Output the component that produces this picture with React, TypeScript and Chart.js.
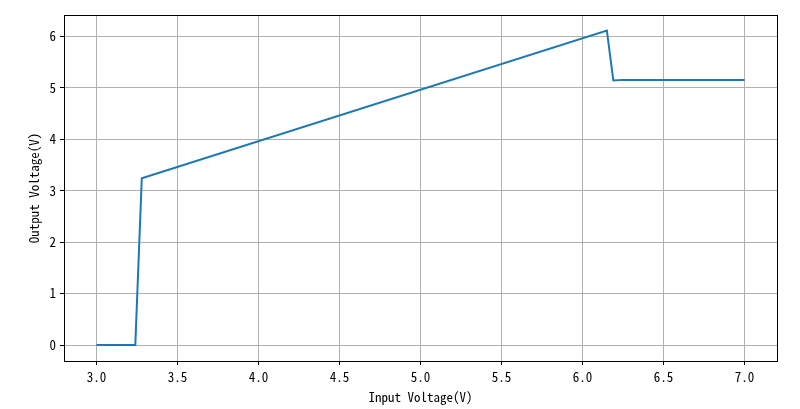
import React, { useEffect, useRef } from "react";
import { Chart, registerables } from "chart.js";

Chart.register(...registerables);

const inputVoltage = [3.0, 3.24, 3.28, 6.15, 6.19, 6.25, 7.0];
const outputVoltage = [0, 0, 3.24, 6.11, 5.14, 5.15, 5.15];
const xTicks = [3.0, 3.5, 4.0, 4.5, 5.0, 5.5, 6.0, 6.5, 7.0];
const yTicks = [0, 1, 2, 3, 4, 5, 6];
const xTitle = "Input Voltage(V)";
const yTitle = "Output Voltage(V)";

const FONT = "'Noto Sans Mono CJK SC', 'Noto Sans CJK SC', 'DejaVu Sans', sans-serif";

const framePlugin = {
  id: "frame",
  afterDraw(chart: any) {
    const { ctx, chartArea } = chart;
    ctx.save();
    ctx.strokeStyle = "#000";
    ctx.lineWidth = 1;
    ctx.strokeRect(
      Math.round(chartArea.left) + 0.5,
      Math.round(chartArea.top) + 0.5,
      Math.round(chartArea.right - chartArea.left),
      Math.round(chartArea.bottom - chartArea.top)
    );
    ctx.restore();
  },
};

export default function App() {
  const ref = useRef<HTMLCanvasElement>(null);
  useEffect(() => {
    document.body.style.margin = "0";
    const data = inputVoltage.map((x, i) => ({ x, y: outputVoltage[i] }));
    const chart = new Chart(ref.current as HTMLCanvasElement, {
      type: "scatter",
      data: {
        datasets: [
          {
            data,
            showLine: true,
            borderColor: "#1f77b4",
            backgroundColor: "#1f77b4",
            borderWidth: 2,
            pointRadius: 0,
            tension: 0,
          },
        ],
      },
      plugins: [framePlugin],
      options: {
        animation: false,
        responsive: false,
        maintainAspectRatio: false,
        layout: { padding: { left: 0, top: 15, right: 23, bottom: 0 } },
        plugins: { legend: { display: false }, tooltip: { enabled: false } },
        scales: {
          x: {
            type: "linear",
            min: 2.8,
            max: 7.2,
            afterBuildTicks: (s: any) => {
              s.ticks = xTicks.map((v) => ({ value: v }));
            },
            afterFit: (s: any) => {
              s.height = 48;
            },
            grid: { color: "#b0b0b0", lineWidth: 1, tickColor: "#000", tickLength: 4 },
            border: { display: true, color: "#000" },
            ticks: {
              color: "#000",
              padding: 4,
              maxRotation: 0,
              font: { family: FONT, size: 13 },
              callback: (v: any) => Number(v).toFixed(1),
            },
            title: {
              display: true,
              text: xTitle,
              color: "#000",
              font: { family: FONT, size: 13 },
              padding: { top: 0, bottom: 4 },
            },
          },
          y: {
            type: "linear",
            min: -0.31,
            max: 6.41,
            afterBuildTicks: (s: any) => {
              s.ticks = yTicks.map((v) => ({ value: v }));
            },
            afterFit: (s: any) => {
              s.width = 64;
            },
            grid: { color: "#b0b0b0", lineWidth: 1, tickColor: "#000", tickLength: 4 },
            border: { display: true, color: "#000" },
            ticks: {
              color: "#000",
              padding: 4,
              font: { family: FONT, size: 13 },
              callback: (v: any) => String(v),
            },
            title: {
              display: true,
              text: yTitle,
              color: "#000",
              font: { family: FONT, size: 13 },
              padding: { top: 26, bottom: 0 },
            },
          },
        },
      },
    });
    return () => chart.destroy();
  }, []);
  return (
    <div style={{ width: 800, height: 409, background: "#fff" }}>
      <canvas ref={ref} width={800} height={409} />
    </div>
  );
}
